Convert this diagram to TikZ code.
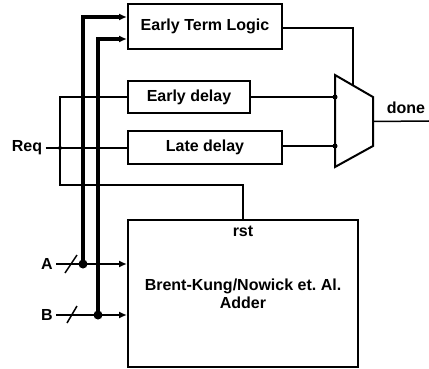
\documentclass[tikz,border=0pt]{standalone}
\usepackage{fontspec}
\setmainfont{Liberation Sans}
\usetikzlibrary{arrows.meta,calc}

\begin{document}
\begin{tikzpicture}[x=1pt,y=-1pt,
  font=\fontsize{16}{18}\selectfont\bfseries,
  blok/.style={draw,line width=2pt,inner sep=0pt},
  wire/.style={line width=1.5pt},
  bus/.style={line width=3.5pt},
  inp/.style={line width=2.5pt},
  pijl/.style={-{Latex[length=8pt,width=7pt]}},
  dot/.style={circle,fill,inner sep=0pt,minimum size=#1},
  dot/.default=9pt]
  \useasboundingbox (0,0) rectangle (429,369);

  % blocks
  \node[blok,minimum width=154,minimum height=45] (etl) at (205,26.5) {Early Term Logic};
  \node[blok,minimum width=122,minimum height=32] (edly) at (189,97) {Early delay};
  \node[blok,minimum width=154,minimum height=33] (ldly) at (205,147.5) {Late delay};
  \node[blok,minimum width=230,minimum height=147,align=center] (adder) at (243,293.5)
    {Brent-Kung/Nowick et.\ Al.\\Adder};
  \node[anchor=north,inner sep=0pt] (rst) at (243,226) {rst};

  % mux
  \coordinate (m1) at (335,75);
  \coordinate (m2) at (373,97);
  \coordinate (m3) at (373,146);
  \coordinate (m4) at (335,167);
  \draw[line width=2pt,line join=miter] (m1) -- (m2) -- (m3) -- (m4) -- cycle;
  \coordinate (msel) at ($(m1)!0.47!(m2)$);
  \coordinate (min1) at (335,97);
  \coordinate (min2) at (335,146);
  \coordinate (mout) at ($(m2)!0.5!(m3)$);

  % labels
  \node (req) at (27,148) {Req};
  \node (done) at (406,108) {done};
  \node (la) at (47,264) {A};
  \node (lb) at (47,315) {B};

  % mux wiring
  \draw[wire] (etl.east |- 0,28) -| (msel);
  \draw[wire] (edly.east) -- (min1);
  \draw[wire] (ldly.east |- min2) -- (min2);
  \node[dot=5pt] at (min1) {};
  \node[dot=5pt] at (min2) {};
  \draw[wire] (mout) -- (429,121);

  % request and reset
  \coordinate (rj) at (60,148);
  \coordinate (rstin) at (243,220);
  \draw[wire] (req.east) -- (ldly.west |- rj);
  \draw[wire] (rj) |- (edly.west);
  \draw[wire] (rj) -- (60,185) -| (rstin);
  \node[dot=4pt] at (rj) {};

  % operands
  \coordinate (ja) at (83,264);
  \coordinate (jb) at (98,315);
  \draw[inp,pijl] (la.east) -- (adder.west |- ja);
  \draw[inp,pijl] (lb.east) -- (adder.west |- jb);
  \draw[wire] ($(ja)+(-18,9)$) -- ($(ja)+(-6,-9)$);
  \draw[wire] ($(jb)+(-31,8)$) -- ($(jb)+(-21,-9)$);
  \draw[bus,pijl] (ja) |- (etl.west |- 0,17);
  \draw[bus,pijl] (jb) |- (etl.west |- 0,39);
  \node[dot] at (ja) {};
  \node[dot] at (jb) {};
\end{tikzpicture}
\end{document}
